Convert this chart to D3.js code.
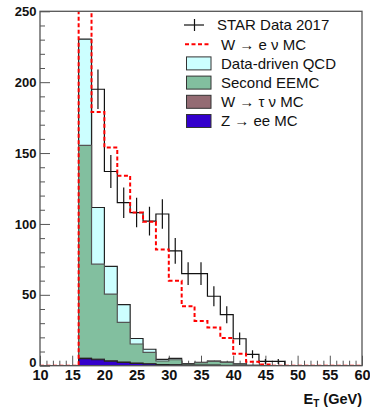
<!DOCTYPE html>
<html>
<head>
<meta charset="utf-8">
<script src="https://cdn.jsdelivr.net/npm/d3@7"></script>
<style>
  body { margin: 0; background: #fff; }
  svg { display: block; }
</style>
</head>
<body>
<svg id="chart" width="370" height="411"></svg>
<script>
// Lower edges of the 2 GeV E_T bins (10 - 60 GeV)
const binLow = [10,12,14,16,18,20,22,24,26,28,30,32,34,36,38,40,42,44,46,48,50,52,54,56,58];
const binWidth = 2;

// Events per bin
const starData = [0,0,0,0,195,137,115,108,102,107,81,65,65,49,36,19,8,3,3,0,0,0,0,0,0];
const wenuMC   = [0,0,0,285,179,154,134,108,101.5,82,60,42,31.6,27,19.6,8.5,2.7,0.8,0,0,0,0,0,0,0];
const qcd      = [0,0,0,75,40,19.6,12.5,3.9,2.2,1.2,1.0,0.3,0.2,0.2,0.2,0.2,0.1,0,0,0,0,0,0,0,0];
const eemc     = [0,0,0,150,67,47,28,13.4,8,2.5,3.5,0.7,1.6,2.6,2,0.9,0.2,0,0,0,0,0,0,0,0];
const wtau     = [0,0,0,0.4,0.4,0.3,0.3,0.2,0.2,0.1,0.2,0.2,0.3,0.3,0.2,0.1,0,0,0,0,0,0,0,0,0];
const zee      = [0,0,0,5,4.2,3.2,2.3,1.7,1.2,0.7,0.5,0.3,0.2,0.2,0.1,0.1,0,0,0,0,0,0,0,0,0];

// Axis ticks
const xMajor = [10,15,20,25,30,35,40,45,50,55,60];
const yMajor = [0,50,100,150,200,250];

const svg = d3.select("#chart");
const L = 40, R = 362, T = 11.3, B = 365.7;
const x = d3.scaleLinear().domain([10, 60]).range([L, R]);
const y = d3.scaleLinear().domain([0, 250]).range([B, T]);

const FONT = "'Liberation Sans', Arial, Helvetica, sans-serif";
const AXIS_COL = "#555";

svg.append("defs").append("clipPath").attr("id", "plot")
  .append("rect").attr("x", L).attr("y", T).attr("width", R - L).attr("height", B - T);

// ---- axes (ticks point into the frame) ----
const minorX = d3.range(10, 61, 1).filter(v => v % 5 !== 0);
const minorY = d3.range(0, 251, 10).filter(v => v % 50 !== 0);

const gx = svg.append("g").attr("transform", `translate(0,${B})`);
gx.call(d3.axisBottom(x).tickValues(minorX).tickSize(-5).tickFormat(""));
gx.call(g => g.select(".domain").remove());
const gx2 = svg.append("g").attr("transform", `translate(0,${B})`);
gx2.call(d3.axisBottom(x).tickValues(xMajor).tickSize(-10).tickPadding(4).tickFormat(d3.format("d")));
gx2.select(".domain").remove();
gx2.selectAll("text").attr("font-family", FONT).attr("font-size", 14.5).attr("font-weight", "bold")
  .attr("fill", "#111").attr("dy", "0.72em").attr("y", 4);

const gy = svg.append("g").attr("transform", `translate(${L},0)`);
gy.call(d3.axisLeft(y).tickValues(minorY).tickSize(-5).tickFormat(""));
gy.select(".domain").remove();
const gy2 = svg.append("g").attr("transform", `translate(${L},0)`);
gy2.call(d3.axisLeft(y).tickValues(yMajor).tickSize(-10).tickPadding(4).tickFormat(d3.format("d")));
gy2.select(".domain").remove();
gy2.selectAll("text").attr("font-family", FONT).attr("font-size", 13).attr("font-weight", "bold")
  .attr("fill", "#111").attr("x", -3.5);
// the zero label sits a little higher so it clears the x labels
gy2.selectAll(".tick").filter(d => d === 0).select("text").attr("dy", "0.05em");
svg.selectAll(".tick line").attr("stroke", AXIS_COL).attr("stroke-width", 1);

// ---- histogram helpers ----
function stepPoints(vals) {
  const pts = binLow.map((lo, i) => ({ x: lo, v: vals[i] }));
  pts.push({ x: binLow[binLow.length - 1] + binWidth, v: vals[vals.length - 1] });
  return pts;
}
const stepLine = d3.line().x(d => x(d.x)).y(d => y(d.v)).curve(d3.curveStepAfter);
const stepArea = d3.area().x(d => x(d.x)).y0(y(0)).y1(d => y(d.v)).curve(d3.curveStepAfter);

const plot = svg.append("g").attr("clip-path", "url(#plot)");

// ---- STAR data: step outline with Poisson error bars (drawn beneath the stack) ----
plot.append("path").attr("d", stepLine(stepPoints(starData)))
  .attr("fill", "none").attr("stroke", "#111").attr("stroke-width", 1.2);
plot.selectAll("line.err").data(binLow.map((lo, i) => ({ c: lo + binWidth / 2, v: starData[i] })).filter(d => d.v > 0))
  .join("line").attr("class", "err")
  .attr("x1", d => x(d.c)).attr("x2", d => x(d.c))
  .attr("y1", d => y(d.v - Math.sqrt(d.v))).attr("y2", d => y(d.v + Math.sqrt(d.v)))
  .attr("stroke", "#111").attr("stroke-width", 1.2);

// ---- stacked backgrounds, drawn as cumulative histograms ----
const rows = binLow.map((lo, i) => ({ zee: zee[i], wtau: wtau[i], eemc: eemc[i], qcd: qcd[i] }));
const layers = d3.stack().keys(["zee", "wtau", "eemc", "qcd"])(rows);
const styles = {
  qcd:  { fill: "#ccffff", stroke: "#222" },
  eemc: { fill: "#82bf9f", stroke: "#555" },
  wtau: { fill: "#946b73", stroke: "#444" },
  zee:  { fill: "#3300cc", stroke: "#222" }
};
layers.slice().reverse().forEach(layer => {
  const top = layer.map(d => d[1]);
  const pts = stepPoints(top);
  const st = styles[layer.key];
  plot.append("path").attr("d", stepArea(pts)).attr("fill", st.fill).attr("stroke", "none");
  plot.append("path").attr("d", stepLine(pts)).attr("fill", "none")
    .attr("stroke", st.stroke).attr("stroke-width", 1.2);
});

// ---- W -> e nu MC ----
plot.append("path").attr("d", stepLine(stepPoints(wenuMC)))
  .attr("fill", "none").attr("stroke", "#ff0000").attr("stroke-width", 2)
  .attr("stroke-dasharray", "4,2.5");

// ---- frame ----
svg.append("rect").attr("x", L).attr("y", T).attr("width", R - L).attr("height", B - T)
  .attr("fill", "none").attr("stroke", AXIS_COL).attr("stroke-width", 1.3);

// ---- axis title ----
const xt = svg.append("text").attr("x", R).attr("y", 404).attr("text-anchor", "end")
  .attr("font-family", FONT).attr("font-size", 14.5).attr("font-weight", "bold").attr("fill", "#111");
xt.append("tspan").text("E");
xt.append("tspan").attr("font-size", 10).attr("dy", 3).text("T");
xt.append("tspan").attr("dy", -3).text(" (GeV)");

// ---- legend ----
const legendLabels = ["STAR Data 2017", "W \u2192 e \u03bd MC", "Data-driven QCD", "Second EEMC", "W \u2192 \u03c4 \u03bd MC", "Z \u2192 ee MC"];
const legendKinds = ["data", "line", "qcd", "eemc", "wtau", "zee"];
const lg = svg.append("g");
legendLabels.forEach((lab, i) => {
  const cy = 25 + 19.2 * i;
  const kind = legendKinds[i];
  if (kind === "data") {
    lg.append("line").attr("x1", 184).attr("x2", 204).attr("y1", cy).attr("y2", cy).attr("stroke", "#111").attr("stroke-width", 1.2);
    lg.append("line").attr("x1", 194.5).attr("x2", 194.5).attr("y1", cy - 6).attr("y2", cy + 6).attr("stroke", "#111").attr("stroke-width", 1.2);
  } else if (kind === "line") {
    lg.append("line").attr("x1", 185).attr("x2", 211).attr("y1", cy).attr("y2", cy)
      .attr("stroke", "#ff0000").attr("stroke-width", 2).attr("stroke-dasharray", "4,2.5");
  } else {
    lg.append("rect").attr("x", 186.5).attr("y", cy - 6.5).attr("width", 24.5).attr("height", 13)
      .attr("fill", styles[kind].fill).attr("stroke", "#333").attr("stroke-width", 1);
  }
  lg.append("text").attr("x", i === 0 ? 217 : 221).attr("y", cy + 5.4)
    .attr("font-family", FONT).attr("font-size", 15).attr("fill", "#111").text(lab);
});
</script>
</body>
</html>
